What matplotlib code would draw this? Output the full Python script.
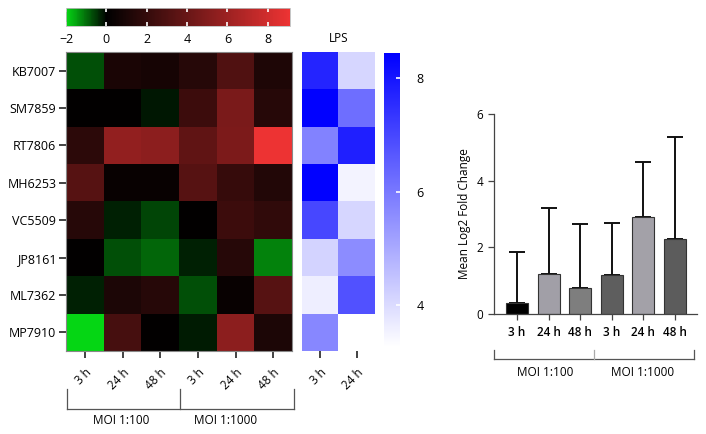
import numpy as np
import matplotlib
matplotlib.use("Agg")
import matplotlib.pyplot as plt
from matplotlib.colors import LinearSegmentedColormap, Normalize
import matplotlib.cm as cm

plt.rcParams['font.family'] = ['Open Sans', 'DejaVu Sans']

strains = ["KB7007", "SM7859", "RT7806", "MH6253", "VC5509", "JP8161", "ML7362", "MP7910"]
time_labels = ["3 h", "24 h", "48 h", "3 h", "24 h", "48 h"]
lps_labels = ["3 h", "24 h"]
groups = ["MOI 1:100", "MOI 1:1000"]

heat = np.array([
    [-0.7, 1.0, 0.9, 1.5, 3.1, 1.2],
    [0.1, 0.1, -0.2, 2.3, 4.7, 1.5],
    [1.7, 5.6, 5.4, 3.7, 4.8, 9.1],
    [3.3, 0.3, 0.3, 3.3, 2.1, 1.3],
    [1.5, -0.3, -0.65, 0.1, 2.3, 1.9],
    [0.1, -0.7, -0.95, -0.3, 1.5, -1.2],
    [-0.3, 1.1, 1.5, -0.7, 0.3, 3.3],
    [-2.0, 2.7, 0.1, -0.25, 5.4, 1.1],
])

lps = np.array([
    [7.7, 4.1],
    [8.4, 6.2],
    [5.8, 7.8],
    [8.4, 3.5],
    [7.0, 4.1],
    [4.15, 5.6],
    [3.6, 6.8],
    [5.7, np.nan],
])

bar_means = [0.33, 1.2, 0.77, 1.18, 2.9, 2.26]
bar_upper = [1.86, 3.18, 2.71, 2.74, 4.56, 5.3]
bar_colors = ["#000000", "#a19fa7", "#7e7e7e", "#5e5e5e", "#a3a1a8", "#5c5c5c"]

W, H = 706, 434
fig = plt.figure(figsize=(W / 100, H / 100), dpi=100)

def box(x0, y0, x1, y1):
    return [x0 / W, 1 - y1 / H, (x1 - x0) / W, (y1 - y0) / H]

# colormaps
vmin, vmax = -2.0, 9.1
z = (0 - vmin) / (vmax - vmin)
rg = LinearSegmentedColormap.from_list(
    "rg", [(0, (0.02, 0.84, 0.08)), (z, (0, 0, 0)), (1, (0.93, 0.2, 0.2))])
bmin, bmax = 3.25, 8.45
bw = LinearSegmentedColormap.from_list("bw", [(0, (1, 1, 1)), (1, (0, 0, 1))])

# main heatmap
ax = fig.add_axes(box(66, 52, 292, 351))
ax.imshow(heat, cmap=rg, vmin=vmin, vmax=vmax, aspect='auto', interpolation='nearest')
ax.set_yticks(range(len(strains)))
ax.set_yticklabels(strains, fontsize=9)
ax.set_xticks(range(len(time_labels)))
ax.set_xticklabels(time_labels, fontsize=8.5, rotation=45, ha='right', rotation_mode='anchor')
ax.tick_params(axis='both', length=5, width=1.2, color='#222222', pad=2)
ax.tick_params(axis='x', pad=6)
for s in ax.spines.values():
    s.set_color('#888888')
    s.set_linewidth(0.8)

def fx(x): return x / W
def fy(y): return 1 - y / H

# brackets under heatmap
for xs in [67, 180, 294]:
    fig.add_artist(plt.Line2D([fx(xs), fx(xs)], [fy(389), fy(409)], color='#555555', lw=0.9))
fig.add_artist(plt.Line2D([fx(67), fx(294)], [fy(409), fy(409)], color='#555555', lw=0.9))
fig.text(fx(121), fy(421), groups[0], ha='center', va='center', fontsize=8.5)
fig.text(fx(226), fy(421), groups[1], ha='center', va='center', fontsize=8.5)

# LPS heatmap
ax2 = fig.add_axes(box(302, 52, 375, 351))
ax2.imshow(np.ma.masked_invalid(lps), cmap=bw, vmin=bmin, vmax=bmax, aspect='auto',
           interpolation='nearest')
ax2.set_yticks([])
ax2.set_xticks(range(len(lps_labels)))
ax2.set_xticklabels(lps_labels, fontsize=8.5, rotation=45, ha='right', rotation_mode='anchor')
ax2.tick_params(axis='x', length=5, width=1.2, color='#222222', pad=6)
for s in ax2.spines.values():
    s.set_visible(False)
ax2.set_title("LPS", fontsize=8.5, pad=7)

# blue colorbar
cax2 = fig.add_axes(box(384, 53, 400, 347))
cb2 = fig.colorbar(cm.ScalarMappable(norm=Normalize(bmin, bmax), cmap=bw), cax=cax2)
cb2.outline.set_visible(False)
cb2.set_ticks([4, 6, 8])
cax2.tick_params(axis='y', direction='inout', length=6, color='white', width=1.2,
                 labelsize=9, pad=9)

# top colorbar
cax1 = fig.add_axes(box(66, 8, 290, 26))
cb1 = fig.colorbar(cm.ScalarMappable(norm=Normalize(vmin, vmax), cmap=rg), cax=cax1,
                   orientation='horizontal')
cb1.outline.set_edgecolor('#bbbbbb')
cb1.outline.set_linewidth(0.6)
cb1.set_ticks([-2, 0, 2, 4, 6, 8])
cb1.set_ticklabels(["\u22122", "0", "2", "4", "6", "8"])
cax1.tick_params(axis='x', direction='in', length=3, color='white', width=1.2,
                 labelsize=9, pad=5, top=True, bottom=True)

# bar chart
ax3 = fig.add_axes(box(494, 114, 697, 314))
x = np.arange(len(bar_means))
err = np.array(bar_upper) - np.array(bar_means)
ax3.bar(x, bar_means, width=0.69, color=bar_colors, edgecolor='#333333', linewidth=0.8, zorder=2)
ax3.errorbar(x, bar_means, yerr=[np.zeros(len(err)), err], fmt='none', ecolor='#111111',
             elinewidth=1.4, capsize=6, capthick=1.4, zorder=1)
ax3.set_xlim(-0.73, 5.7)
ax3.set_ylim(0, 6)
ax3.set_yticks([0, 2, 4, 6])
ax3.set_xticks(x)
ax3.set_xticklabels(time_labels, fontsize=8.5, fontweight='semibold')
ax3.tick_params(axis='both', labelsize=8.5, color='#444444', width=0.9, length=4)
ax3.tick_params(axis='x', pad=5)
ax3.spines['top'].set_visible(False)
ax3.spines['right'].set_visible(False)
for s in ['left', 'bottom']:
    ax3.spines[s].set_color('#444444')
    ax3.spines[s].set_linewidth(0.9)
ax3.set_ylabel("Mean Log2 Fold Change", fontsize=8.5, labelpad=4)

fig.add_artist(plt.Line2D([fx(494), fx(694)], [fy(359), fy(359)], color='#555555', lw=0.9))
for xs, c in [(494, '#555555'), (594, '#aaaaaa'), (694, '#555555')]:
    fig.add_artist(plt.Line2D([fx(xs), fx(xs)], [fy(350), fy(359)], color=c, lw=0.9))
fig.text(fx(545), fy(372), groups[0], ha='center', va='center', fontsize=8.5)
fig.text(fx(643), fy(372), groups[1], ha='center', va='center', fontsize=8.5)

fig.savefig("out.png", dpi=100)
